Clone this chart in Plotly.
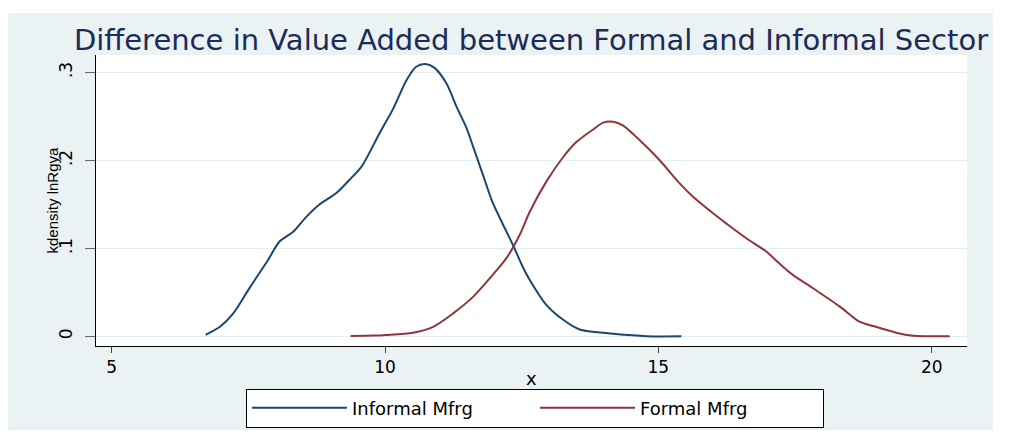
import plotly.graph_objects as go

# ---- data ----
informal_x = [6.72, 6.98, 7.22, 7.52, 7.86, 8.07, 8.32, 8.56, 8.80, 9.11, 9.38, 9.57, 9.90,
              10.15, 10.39, 10.57, 10.74, 10.91, 11.12, 11.31, 11.49, 11.61, 11.79, 11.97,
              12.16, 12.34, 12.52, 12.65, 12.95, 13.26, 13.56, 13.86, 14.17, 14.78, 15.42]
informal_y = [0.002, 0.011, 0.026, 0.055, 0.087, 0.108, 0.119, 0.136, 0.150, 0.163, 0.180,
              0.193, 0.231, 0.259, 0.291, 0.3066, 0.3097, 0.305, 0.288, 0.261, 0.237, 0.216,
              0.184, 0.152, 0.127, 0.104, 0.079, 0.064, 0.036, 0.019, 0.008, 0.005, 0.003,
              0.0003, 0.0002]

formal_x = [9.37, 9.80, 10.02, 10.51, 10.88, 11.24, 11.61, 11.97, 12.22, 12.46, 12.65, 12.95,
            13.26, 13.50, 13.80, 13.99, 14.17, 14.35, 14.66, 15.02, 15.39, 15.63, 16.00,
            16.24, 16.61, 16.98, 17.21, 17.46, 17.83, 18.32, 18.68, 18.93, 19.35, 19.66, 20.33]
formal_y = [0.0006, 0.001, 0.0017, 0.0043, 0.011, 0.026, 0.045, 0.070, 0.089, 0.115, 0.142,
            0.176, 0.204, 0.221, 0.235, 0.243, 0.2441, 0.240, 0.223, 0.2006, 0.174, 0.159,
            0.140, 0.1286, 0.1116, 0.0964, 0.0832, 0.070, 0.0548, 0.034, 0.0168, 0.0119,
            0.0043, 0.0009, 0.0002]

series_names = ["Informal Mfrg", "Formal Mfrg"]
x_ticks = [5, 10, 15, 20]
x_tick_labels = ["5", "10", "15", "20"]
y_ticks = [0, 0.1, 0.2, 0.3]
y_tick_labels = ["0", ".1", ".2", ".3"]

title_text = "Difference in Value Added between Formal and Informal Sector"
y_title = "kdensity lnRgya"
x_title = "x"

# ---- styling ----
W, H = 1016, 434
L, R, T, B = 96, 49, 55, 88
pw, ph = W - L - R, H - T - B
BG = "#eaf2f3"
NAVY = "#1a476f"
MAROON = "#90353b"
FONT = "DejaVu Sans, Arial, sans-serif"

def px_x(p):
    return (p - L) / pw

def px_y(p):
    return (H - B - p) / ph

fig = go.Figure()
fig.add_trace(go.Scatter(x=informal_x, y=informal_y, mode="lines", name=series_names[0],
                         line=dict(color=NAVY, width=2, shape="spline", smoothing=0.8)))
fig.add_trace(go.Scatter(x=formal_x, y=formal_y, mode="lines", name=series_names[1],
                         line=dict(color=MAROON, width=2, shape="spline", smoothing=0.8)))

fig.update_layout(
    width=W, height=H,
    margin=dict(l=L, r=R, t=T, b=B, autoexpand=False),
    paper_bgcolor="white", plot_bgcolor="white",
    title=dict(text=title_text, x=531 / W, xanchor="center",
               y=1 - 40 / H, yanchor="middle",
               font=dict(family=FONT, size=29, color="#1c2b58")),
    xaxis=dict(range=[4.713, 20.646], tickvals=x_ticks, ticktext=x_tick_labels,
               showgrid=False, zeroline=False, showline=True, linecolor="black", linewidth=1,
               ticks="outside", ticklen=6, tickcolor="#444", tickwidth=1,
               tickfont=dict(family=FONT, size=17, color="black")),
    yaxis=dict(range=[-0.0108, 0.3199], tickvals=y_ticks, ticktext=y_tick_labels,
               showgrid=True, gridcolor="#e3ecef", gridwidth=1, zeroline=False,
               showline=True, linecolor="black", linewidth=1,
               ticks="outside", ticklen=10, tickcolor="#666", tickwidth=1, tickangle=-90,
               ticklabelstandoff=6,
               tickfont=dict(family=FONT, size=17, color="black")),
    legend=dict(orientation="h", x=px_x(535), xanchor="center", y=px_y(408), yanchor="middle",
                bordercolor="black", borderwidth=1, bgcolor="white",
                font=dict(family=FONT, size=18, color="black"), itemwidth=95,
                entrywidth=178),
    annotations=[
        dict(text=y_title, xref="paper", yref="paper", x=px_x(52), y=0.5,
             xanchor="center", yanchor="middle", textangle=-90, showarrow=False,
             font=dict(family="Liberation Sans, Arial, sans-serif", size=15, color="black")),
        dict(text=x_title, xref="paper", yref="paper", x=px_x(531), y=px_y(378),
             xanchor="center", yanchor="middle", showarrow=False,
             font=dict(family=FONT, size=18, color="black")),
    ],
    shapes=[
        dict(type="rect", xref="paper", yref="paper", x0=px_x(8), x1=px_x(993),
             y0=px_y(430), y1=px_y(13), fillcolor=BG, line=dict(width=0), layer="below"),
        dict(type="rect", xref="paper", yref="paper", x0=0, x1=1, y0=0, y1=1,
             fillcolor="white", line=dict(width=0), layer="below"),
    ],
)

fig.write_html("out.html", config={"displayModeBar": False},
               post_script="document.body.style.margin='0px';")
